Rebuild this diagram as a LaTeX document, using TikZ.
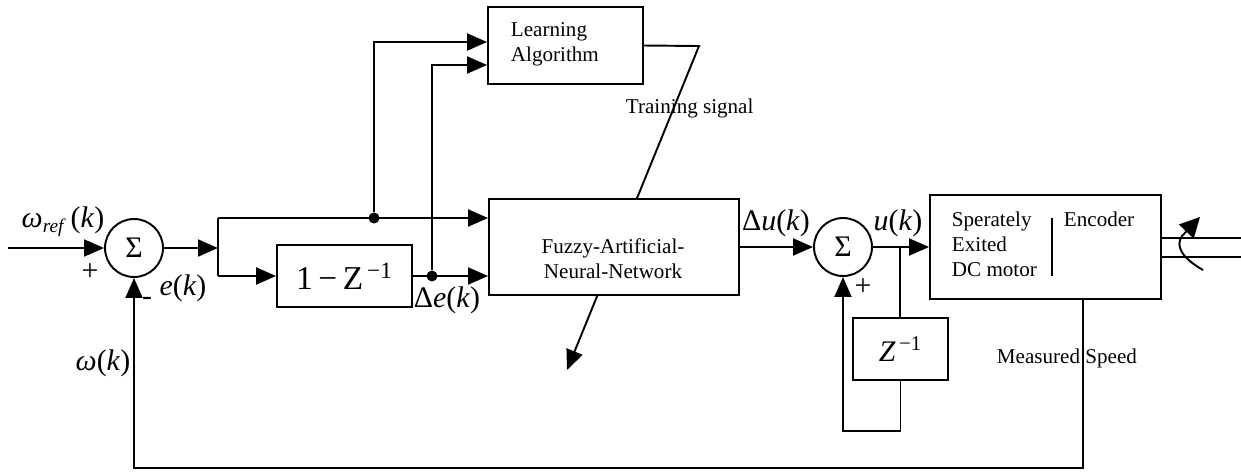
\documentclass[tikz,border=0pt]{standalone}
\usepackage{fontspec}
\setmainfont{Liberation Serif}
\usetikzlibrary{arrows.meta,positioning}
\newcommand{\mlab}[1]{{\fontsize{17}{20}\selectfont #1}}
\tikzset{
  sig/.style={-{Triangle[length=0.4cm,width=0.34cm]}},
  blk/.style={draw,line width=1.1pt,inner sep=0pt,fill=white},
  sumnode/.style={draw,line width=1.1pt,circle,minimum size=1.16cm,inner sep=0pt},
  tap/.style={circle,fill,inner sep=0pt,minimum size=0.22cm}
}

\begin{document}
\begin{tikzpicture}[x=0.02cm,y=-0.02cm,line width=1.1pt,font=\fontsize{12}{14.2}\selectfont]
  \useasboundingbox (0,0) rectangle (1241,471);
  % blocks
  \node[sumnode] (errsum) at (134,248) {\mlab{Σ}};
  \node[blk,minimum width=2.7cm,minimum height=1.24cm] (diffblk) at (344.5,276) {{\fontsize{19}{22}\selectfont 1\,−\,Z\textsuperscript{\,−1}}};
  \node[blk,minimum width=3.1cm,minimum height=1.54cm] (learn) at (565.5,45.5) {};
  \node[anchor=west,align=left,inner sep=0pt] (learntxt) at (510,44.5) {Learning\\Algorithm};
  % training signal runs under the network box
  \coordinate (trtop) at (699,46);
  \coordinate (trend) at (567,370);
  \draw[sig] (learn.east) -- (trtop) -- (trend);
  \node[blk,minimum width=5cm,minimum height=1.92cm] (fann) at (614,247) {};
  \node[align=center,inner sep=0pt] (fanntxt) at (613,259) {Fuzzy-Artificial-\\Neural-Network};
  \node[sumnode] (usum) at (843,247) {\mlab{Σ}};
  \node[blk,minimum width=1.9cm,minimum height=1.24cm] (delay) at (900.5,349) {\mlab{\textit{Z}\textsuperscript{\,−1}}};
  \node[blk,minimum width=4.62cm,minimum height=2.08cm] (motor) at (1045.5,247) {};
  \node[anchor=west,align=left,inner sep=0pt] (motortxt) at (951,244) {Sperately\\Exited\\DC motor};
  \node[anchor=base west,inner sep=0pt] (enc) at (1063,226) {Encoder};
  \draw (1052,218) -- (1052,276);
  % error path
  \coordinate (wref) at (8,248);
  \coordinate (split) at (218,248);
  \coordinate (up) at (218,218);
  \coordinate (lo) at (218,276);
  \draw[sig] (wref) -- (errsum);
  \draw[sig] (errsum) -- (split);
  \draw (up) -- (lo);
  \draw[sig] (up) -- (fann.west |- up);
  \draw[sig] (lo) -- (diffblk);
  \draw[sig] (diffblk) -- (fann.west |- diffblk);
  \node[tap] (tapE) at (374,218) {};
  \node[tap] (tapDE) at (432,276) {};
  \draw[sig] (tapE) |- ([yshift=0.07cm]learn.west);
  \draw[sig] (tapDE) |- ([yshift=-0.39cm]learn.west);
  % control path
  \draw[sig] (fann) -- (usum);
  \draw[sig] (usum) -- (motor);
  \coordinate (usplit) at (900,247);
  \draw (usplit) -- (usplit |- delay.north);
  \draw[sig] (delay.south) -- ++(0,50) -| (usum);
  \draw[sig] ([xshift=0.75cm]motor.south) -- ++(0,168) -| (errsum);
  % shaft
  \draw ([yshift=0.18cm]motor.east) -- ++(80,0);
  \draw ([yshift=-0.2cm]motor.east) -- ++(80,0);
  \draw[-{Triangle[length=0.4cm,width=0.4cm]}] (1203,270) .. controls (1182,258) and (1175,246) .. (1182,236) -- (1200,217);
  % labels
  \node (lwref) at (63,222) {\mlab{\textit{ω}\raisebox{-0.35ex}{\fontsize{11}{11}\selectfont\textit{ref}}\,(\textit{k})}};
  \node (lplus) at (90,272) {\mlab{+}};
  \node (lminus) at (147,301) {\mlab{-}};
  \node (le) at (183,288) {\mlab{\textit{e}(\textit{k})}};
  \node (lw) at (103,363) {\mlab{\textit{ω}(\textit{k})}};
  \node (lde) at (447,300) {\mlab{Δ\textit{e}(\textit{k})}};
  \node (ldu) at (776,223) {\mlab{Δ\textit{u}(\textit{k})}};
  \node (lu) at (898,223) {\mlab{\textit{u}(\textit{k})}};
  \node (lplus2) at (863,287) {\mlab{+}};
  \node[anchor=base west,inner sep=0pt] (ltrain) at (625,113) {Training signal};
  \node[anchor=base west,inner sep=0pt] (lspeed) at (996,363) {Measured Speed};
\end{tikzpicture}
\end{document}
